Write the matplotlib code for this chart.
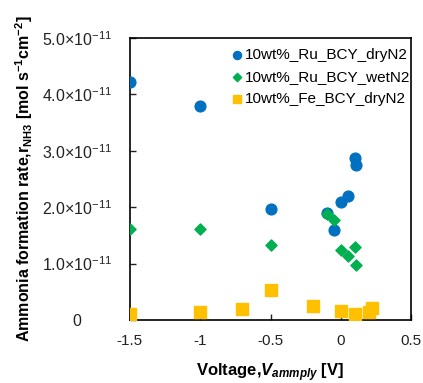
import numpy as np
import matplotlib.pyplot as plt

plt.rcParams['font.family'] = ['Liberation Sans', 'DejaVu Sans']
plt.rcParams['mathtext.fontset'] = 'custom'
plt.rcParams['mathtext.rm'] = 'Liberation Sans'
plt.rcParams['mathtext.it'] = 'Liberation Sans:italic'
plt.rcParams['mathtext.bf'] = 'Liberation Sans:bold'
plt.rcParams['mathtext.bfit'] = 'Liberation Sans:italic:bold'

# data
ru_dry_v = [-1.5, -1.0, -0.5, -0.1, -0.05, 0.0, 0.05, 0.1, 0.11]
ru_dry_r = [4.22, 3.80, 1.97, 1.90, 1.60, 2.09, 2.19, 2.87, 2.74]
ru_wet_v = [-1.5, -1.0, -0.5, -0.1, -0.05, 0.0, 0.05, 0.1, 0.11]
ru_wet_r = [1.62, 1.61, 1.33, 1.88, 1.77, 1.24, 1.14, 1.29, 0.975]
fe_dry_v = [-1.5, -1.0, -0.7, -0.5, -0.2, 0.0, 0.1, 0.2, 0.22]
fe_dry_r = [0.11, 0.15, 0.19, 0.53, 0.25, 0.16, 0.10, 0.14, 0.22]

yticks = [0, 1, 2, 3, 4, 5]
ytick_labels = ["0"] + [r"%d.0$\times$10$^{-11}$" % t for t in yticks[1:]]

fig = plt.figure(figsize=(4.23, 3.83), dpi=100)
ax = fig.add_axes([0.307, 0.1645, 0.665, 0.7365])

ax.scatter(ru_dry_v, ru_dry_r, marker="o", s=60, color="#0070C0",
           label="10wt%_Ru_BCY_dryN2", zorder=3)
ax.scatter(ru_wet_v, ru_wet_r, marker="D", s=32, color="#00B050",
           label="10wt%_Ru_BCY_wetN2", zorder=3)
ax.scatter(fe_dry_v, fe_dry_r, marker="s", s=70, color="#FFC000",
           label="10wt%_Fe_BCY_dryN2", zorder=3)

ax.set_xlim(-1.5, 0.5)
ax.set_ylim(0, 5)
ax.set_xticks([-1.5, -1, -0.5, 0, 0.5])
ax.set_xticklabels(["-1.5", "-1", "-0.5", "0", "0.5"])
ax.set_yticks(yticks)
ax.set_yticklabels(ytick_labels, fontsize=11.5, ha="center")

ax.tick_params(direction="in", length=4, width=1, colors="#222222")
ax.tick_params(axis="x", labelsize=11, pad=10)
ax.tick_params(axis="y", pad=38)
for sp in ax.spines.values():
    sp.set_linewidth(1.2)

ax.set_xlabel(r"Voltage,$\mathbfit{V}_{\mathbfit{ammply}}$ [V]",
              fontsize=12, fontweight="bold", labelpad=10)
ax.set_ylabel(r"Ammonia formation rate,r$_{\mathbf{NH3}}$ [mol s$^{\mathbf{-1}}$cm$^{\mathbf{-2}}$]",
              fontsize=11.5, fontweight="bold", labelpad=5)

ax.legend(loc="upper left", frameon=False, fontsize=11, handletextpad=0.15,
          borderaxespad=0, borderpad=0.0, labelspacing=0.5, handlelength=0.7,
          markerscale=0.75, bbox_to_anchor=(0.362, 0.963))

fig.savefig("out.png", dpi=100)
